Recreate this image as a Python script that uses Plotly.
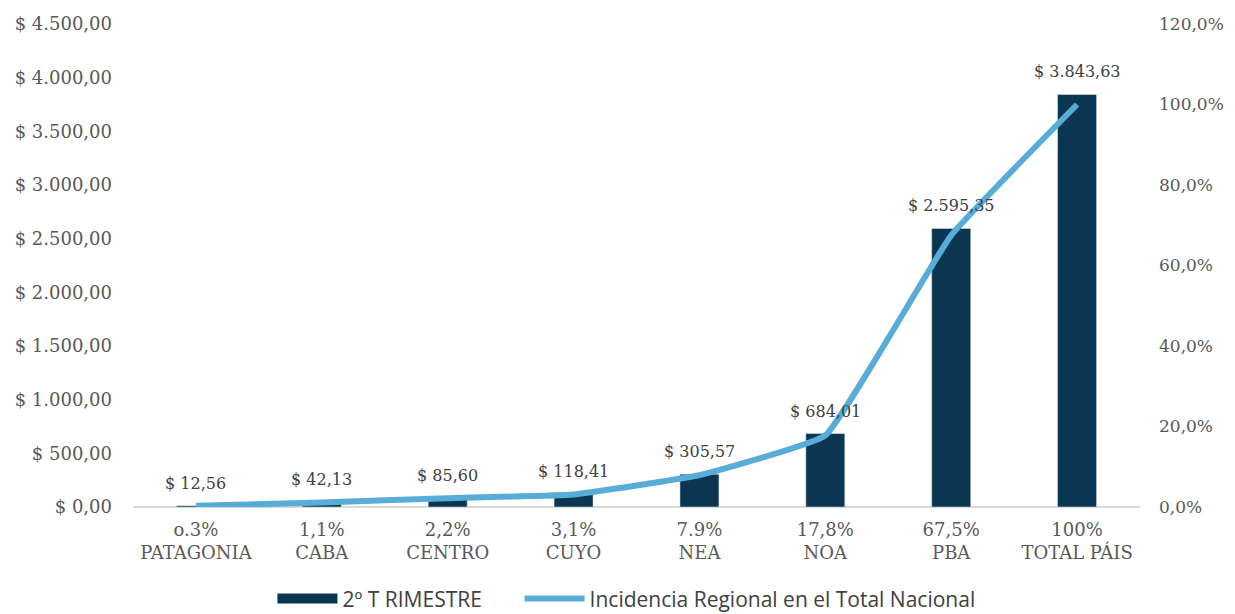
import plotly.graph_objects as go

regions = ["PATAGONIA", "CABA", "CENTRO", "CUYO", "NEA", "NOA", "PBA", "TOTAL PÁIS"]
pct_labels = ["o.3%", "1,1%", "2,2%", "3,1%", "7.9%", "17,8%", "67,5%", "100%"]
values = [12.56, 42.13, 85.60, 118.41, 305.57, 684.01, 2595.35, 3843.63]
value_labels = ["$ 12,56", "$ 42,13", "$ 85,60", "$ 118,41", "$ 305,57", "$ 684,01", "$ 2.595,35", "$ 3.843,63"]
incidence = [0.3, 1.1, 2.2, 3.1, 7.9, 17.8, 67.5, 100.0]
left_ticks = [0, 500, 1000, 1500, 2000, 2500, 3000, 3500, 4000, 4500]
left_ticktext = ["$ 0,00", "$ 500,00", "$ 1.000,00", "$ 1.500,00", "$ 2.000,00", "$ 2.500,00",
                 "$ 3.000,00", "$ 3.500,00", "$ 4.000,00", "$ 4.500,00"]
right_ticks = [0, 20, 40, 60, 80, 100, 120]
right_ticktext = ["0,0%", "20,0%", "40,0%", "60,0%", "80,0%", "100,0%", "120,0%"]

cat_text = [f"{p}<br>{r}" for p, r in zip(pct_labels, regions)]

BAR = "#0B3651"
LINE = "#58ADD8"
serif = "DejaVu Serif"
fig = go.Figure()
fig.add_trace(go.Bar(
    x=cat_text, y=values, name="2º T RIMESTRE", showlegend=False,
    marker=dict(color=BAR), width=0.31,
))
# legend-only entry with a wide block symbol, like the reference legend
fig.add_trace(go.Scatter(
    x=[None], y=[None], name="2º T RIMESTRE" + "\u00a0" * 6, mode="lines",
    line=dict(color=BAR, width=14),
))
fig.add_trace(go.Scatter(
    x=cat_text, y=incidence, name="Incidencia Regional en el Total Nacional",
    yaxis="y2", mode="lines", line=dict(color=LINE, width=6, shape="spline", smoothing=0.3),
))
for c, v, t in zip(cat_text, values, value_labels):
    fig.add_annotation(x=c, y=v, xref="x", yref="y", text=t, showarrow=False,
                       yanchor="bottom", yshift=11,
                       font=dict(family=serif, size=16, color="#404040"))
fig.update_layout(
    width=1227, height=606,
    margin=dict(l=125, r=95, t=16, b=107, autoexpand=False),
    paper_bgcolor="white", plot_bgcolor="white",
    xaxis=dict(tickfont=dict(family=serif, size=18, color="#595959"), showgrid=False,
               showline=False, ticks="", automargin=False, ticklabelstandoff=10),
    yaxis=dict(range=[0, 4500], tickvals=left_ticks, ticktext=left_ticktext,
               tickfont=dict(family=serif, size=18, color="#595959"), showgrid=False,
               zeroline=True, zerolinecolor="#D9D9D9", zerolinewidth=2, automargin=False,
               ticklabelstandoff=20),
    yaxis2=dict(range=[0, 120], tickvals=right_ticks, ticktext=right_ticktext, overlaying="y",
                side="right", tickfont=dict(family=serif, size=17, color="#595959"),
                showgrid=False, zeroline=False, automargin=False, ticklabelstandoff=18),
    legend=dict(orientation="h", x=0.49, xanchor="center", y=-0.19, yanchor="middle",
                font=dict(family="Open Sans", size=21, color="#404040"),
                itemwidth=60, tracegroupgap=0),
    showlegend=True,
)
fig.write_html("out.html")
